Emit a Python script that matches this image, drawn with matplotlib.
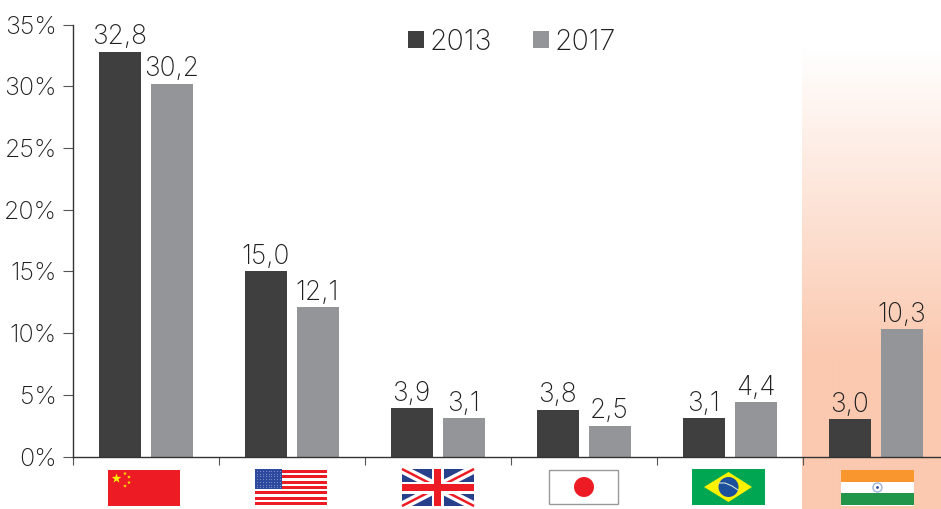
import numpy as np
import matplotlib
matplotlib.use("Agg")
import matplotlib.pyplot as plt
from matplotlib.patches import Rectangle, Polygon, Circle
from matplotlib.colors import to_rgb

years = ["2013", "2017"]
values_2013 = [32.8, 15.0, 3.9, 3.8, 3.1, 3.0]
values_2017 = [30.2, 12.1, 3.1, 2.5, 4.4, 10.3]
y_ticks = [0, 5, 10, 15, 20, 25, 30, 35]
countries = ["China", "USA", "UK", "Japan", "Brazil", "India"]

DARK = "#3f3f40"
GREY = "#939598"
TEXT = "#1f1f1f"
PEACH = "#fbc9b0"
LABEL_SIZE = 19
TICK_SIZE = 18
LEGEND_SIZE = 20.5

plt.rcParams["font.family"] = ["Inter", "DejaVu Sans"]
plt.rcParams["font.weight"] = "light"
W, H = 941, 509
fig = plt.figure(figsize=(W / 100, H / 100), dpi=100)

# Pixel-addressed layer for the highlight band and the flags
bg = fig.add_axes([0, 0, 1, 1], zorder=0)
bg.axis("off")

top, fade_end = 48, 355
ramp = np.clip((np.arange(top, H) - top) / (fade_end - top), 0, 1)[:, None, None]
white = np.array([1.0, 1.0, 1.0])
band = white + (np.array(to_rgb(PEACH)) - white) * ramp
bg.imshow(band, extent=(802, W, H, top), aspect="auto", interpolation="bilinear", zorder=1)
bg.set_xlim(0, W)
bg.set_ylim(H, 0)

left = 72.6
ax = fig.add_axes([left / W, (H - 456.5) / H, (W - left) / W, (456.5 - 24.5) / H], zorder=2)
ax.patch.set_alpha(0)
x = np.arange(len(countries))
scale = 146.0
offset, width = 26 / scale, 42 / scale
bars_a = ax.bar(x - offset, values_2013, width, color=DARK, label=years[0])
bars_b = ax.bar(x + offset, values_2017, width, color=GREY, label=years[1])
ax.set_xlim(-0.5, -0.5 + (W - left) / scale)
ax.set_ylim(0, 35)

for bars in (bars_a, bars_b):
    for b in bars:
        ax.annotate(f"{b.get_height():.1f}".replace(".", ","),
                    (b.get_x() + b.get_width() / 2, b.get_height()),
                    xytext=(0, 1.0), textcoords="offset points",
                    ha="center", va="bottom", fontsize=LABEL_SIZE, color=TEXT, annotation_clip=False)

for s in ("top", "right"):
    ax.spines[s].set_visible(False)
for s in ("left", "bottom"):
    ax.spines[s].set_color("#333333")
    ax.spines[s].set_linewidth(1.0)

ax.set_yticks(y_ticks)
ax.set_yticklabels([f"{v}%" for v in y_ticks], fontsize=TICK_SIZE, color=TEXT)
ax.tick_params(axis="y", length=7.5, width=0.8, color="#555555", pad=4)
ax.set_xticks(np.arange(len(countries)) - 0.5)
ax.set_xticklabels([])
ax.tick_params(axis="x", length=6, width=0.8, color="#555555")

# Legend entries sit inside the plot area
leg = ax.legend(loc="upper left", bbox_to_anchor=((408 - left) / (W - left), 1 - 4 / 432),
                ncol=2, frameon=False, fontsize=LEGEND_SIZE, handlelength=0.56, handleheight=0.56,
                handletextpad=0.18, columnspacing=1.47, labelcolor=TEXT, borderpad=0.0,
                borderaxespad=0.0)


def rect(x0, y0, w, h, c, **kw):
    bg.add_patch(Rectangle((x0, y0), w, h, facecolor=c, edgecolor="none", zorder=3, **kw))


def star(cx, cy, r, c="#fff200"):
    ang = np.deg2rad(-90 + 36 * np.arange(10))
    rad = np.where(np.arange(10) % 2 == 0, r, r * 0.4)
    bg.add_patch(Polygon(np.c_[cx + rad * np.cos(ang), cy + rad * np.sin(ang)],
                         facecolor=c, edgecolor="none", zorder=4))


# China
rect(108, 470, 72, 36, "#ed1c24")
star(116.5, 478.5, 5)
for sx, sy in [(125, 473.5), (129, 477), (129, 482.5), (125, 486)]:
    star(sx, sy, 1.9)

# United States
rect(255, 469.5, 72, 36.5, "#ffffff")
for i in range(7):
    rect(255, 470 + i * 5.35, 72, 2.9, "#ed1c24")
rect(255, 469, 27, 20, "#2e4a9e")
for r_i in range(7):
    for c_i in range(9):
        bg.plot(257 + c_i * 2.9, 471 + r_i * 2.7, ".", ms=1.0, mew=0, color="#aab6dc", zorder=5)

# United Kingdom
x0, y0, w, h = 402, 469, 72, 37
rect(x0, y0, w, h, "#27408b")
for ya, yb in [(y0, y0 + h), (y0 + h, y0)]:
    bg.plot([x0, x0 + w], [ya, yb], color="white", lw=6.5, zorder=4, solid_capstyle="butt")
    bg.plot([x0, x0 + w], [ya, yb], color="#ed1c24", lw=1.8, zorder=4.1, solid_capstyle="butt")
bg.add_patch(Rectangle((x0 + 30, y0), 12, h, facecolor="white", zorder=4.2))
bg.add_patch(Rectangle((x0, y0 + 12.5), w, 12, facecolor="white", zorder=4.2))
bg.add_patch(Rectangle((x0 + 32.5, y0), 7, h, facecolor="#ed1c24", zorder=4.3))
bg.add_patch(Rectangle((x0, y0 + 15), w, 7, facecolor="#ed1c24", zorder=4.3))

# Japan
bg.add_patch(Rectangle((549.5, 469.5), 69, 34, facecolor="white", edgecolor="#999999", lw=1, zorder=3))
bg.add_patch(Circle((584, 487), 10, facecolor="#ed1c24", edgecolor="none", zorder=4))

# Brazil
rect(692, 469, 73, 36, "#00a651")
bg.add_patch(Polygon([(704, 487), (728.5, 472), (752, 487), (728.5, 502)],
                     facecolor="#fff200", edgecolor="none", zorder=4))
bg.add_patch(Circle((728.5, 487), 10, facecolor="#1c4f9c", edgecolor="none", zorder=5))
bg.plot([719, 725, 732, 738], [483, 483, 486, 490], color="#cfe3d8", lw=0.8, zorder=6)

# India
rect(841, 469.5, 73, 36, "white")
rect(841, 470, 73, 12, "#f9962d")
rect(841, 493, 73, 12, "#21964a")
bg.add_patch(Circle((877.5, 487.5), 4.5, facecolor="white", edgecolor="#9db4da", lw=1, zorder=4))
bg.add_patch(Circle((877.5, 487.5), 1.4, facecolor="#2e4a9e", edgecolor="none", zorder=5))

fig.savefig("out.png", dpi=100)
